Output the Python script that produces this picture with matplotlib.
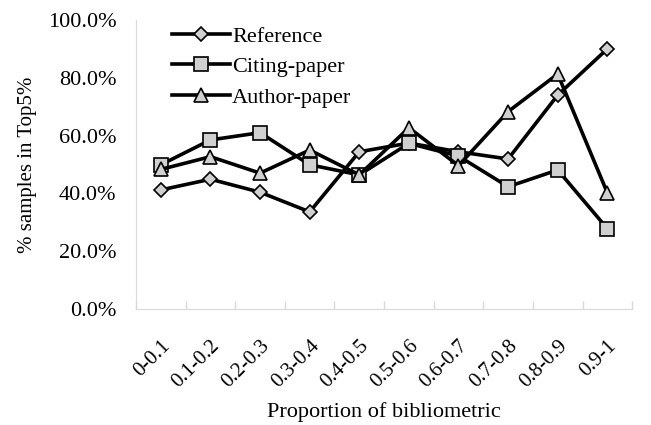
import numpy as np
import matplotlib.pyplot as plt
from matplotlib.ticker import PercentFormatter

# Categories and series values (percent)
categories = ["0-0.1", "0.1-0.2", "0.2-0.3", "0.3-0.4", "0.4-0.5",
              "0.5-0.6", "0.6-0.7", "0.7-0.8", "0.8-0.9", "0.9-1"]
reference = [41.2, 44.9, 40.4, 33.6, 54.4, 57.4, 54.4, 51.9, 74.0, 90.0]
citing_paper = [49.9, 58.5, 61.0, 49.9, 46.4, 57.3, 52.9, 42.3, 48.1, 27.8]
author_paper = [48.3, 52.7, 47.0, 55.0, 46.4, 62.7, 49.6, 68.3, 81.3, 40.2]

plt.rcParams["font.family"] = ["Liberation Serif", "DejaVu Serif"]

fig = plt.figure(figsize=(6.51, 4.25), dpi=100)
ax = fig.add_axes([0.209, 0.273, 0.762, 0.68])

x = np.arange(len(categories))
fill = "#d0d0d0"
ax.plot(x, reference, color="black", lw=2.6, marker="D", ms=7,
        mfc=fill, mec="black", mew=1.2, label="Reference")
ax.plot(x, citing_paper, color="black", lw=2.6, marker="s", ms=10,
        mfc=fill, mec="black", mew=1.2, label="Citing-paper")
ax.plot(x, author_paper, color="black", lw=2.6, marker="^", ms=10,
        mfc=fill, mec="black", mew=1.2, label="Author-paper")

ax.set_xlim(-0.5, len(categories) - 0.5)
ax.set_ylim(0, 100)
ax.set_yticks(np.arange(0, 101, 20))
ax.yaxis.set_major_formatter(PercentFormatter(decimals=1))
ax.tick_params(axis="y", length=0, labelsize=16, pad=14)

ax.set_xticks(x)
ax.set_xticklabels(categories, rotation=45, ha="right", rotation_mode="anchor")
ax.set_xticks(np.arange(-0.5, len(categories), 1), minor=True)
ax.tick_params(axis="x", which="major", length=0, labelsize=15, pad=20)
ax.tick_params(axis="x", which="minor", length=6, direction="in",
               color="#d9d9d9", width=1)

for side in ["top", "right"]:
    ax.spines[side].set_visible(False)
for side in ["left", "bottom"]:
    ax.spines[side].set_color("#d9d9d9")

ax.set_ylabel("% samples in Top5%", fontsize=15, labelpad=8)
ax.set_xlabel("Proportion of bibliometric", fontsize=16, labelpad=7)

ax.legend(loc="upper left", bbox_to_anchor=(0.055, 1.01), frameon=False,
          fontsize=16, handlelength=2.6, handletextpad=0.1,
          labelspacing=0.45, borderaxespad=0)

fig.savefig("out.png", dpi=100)
